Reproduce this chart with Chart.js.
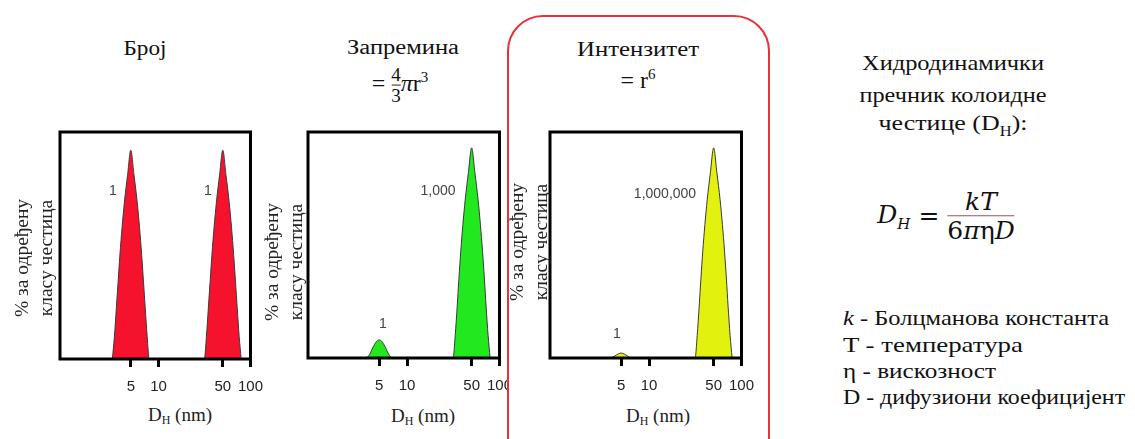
<!DOCTYPE html>
<html>
<head>
<meta charset="utf-8">
<script src="https://cdn.jsdelivr.net/npm/chart.js@4/dist/chart.umd.min.js"></script>
<style>
  html,body{margin:0;padding:0;background:#fff;}
  body{width:1135px;height:439px;position:relative;overflow:hidden;color:#111;}
  .c{position:absolute;transform:translate(-50%,-50%);white-space:nowrap;z-index:3;}
  .ytitle{position:absolute;transform:translate(-50%,-50%) rotate(-90deg);white-space:nowrap;text-align:center;font-size:19.5px;line-height:24px;color:#222;z-index:3;}
  .xt{font-size:19px;color:#222;}
  .xt sub{font-size:12px;vertical-align:-3px;}
  .pk{position:absolute;transform:translate(-50%,-50%);font-size:14px;color:#444;white-space:nowrap;z-index:3;}
  .box{position:absolute;left:507px;top:15px;width:263px;height:460px;border:2px solid #e8323a;border-radius:36px;box-sizing:border-box;background:#fff;z-index:1;}
  .cv{position:absolute;}
  .frac{display:inline-flex;flex-direction:column;align-items:center;vertical-align:middle;}
  .frac span{display:block;line-height:1.05;}
  .li{position:absolute;left:843px;white-space:nowrap;font-size:21px;transform-origin:left center;transform:translateY(-50%);}
</style>
</head>
<body>
<div class="box"></div>

<div class="c fit" data-w="43" style="left:145px;top:48px;font-size:20px;font-family:'Liberation Serif',serif;">Број</div>
<div class="c fit" data-w="112" style="left:403px;top:47px;font-size:20px;font-family:'Liberation Serif',serif;">Запремина</div>
<div class="c" style="left:400px;top:85px;font-size:24px;font-family:'Liberation Serif',serif;">= <span class="frac" style="font-size:19px;"><span>4</span><span style="border-top:1px solid #222;">3</span></span><i>π</i>r<sup style="font-size:15px;">3</sup></div>
<div class="c fit" data-w="122" style="left:638px;top:49px;font-size:20px;font-family:'Liberation Serif',serif;">Интензитет</div>
<div class="c" style="left:638px;top:80px;font-size:24px;font-family:'Liberation Serif',serif;">= r<sup style="font-size:15px;">6</sup></div>

<div class="ytitle" style="left:34px;top:258px;font-family:'Liberation Serif',serif;">% за одређену<br>класу честица</div>
<div class="ytitle" style="left:284px;top:262px;font-family:'Liberation Serif',serif;">% за одређену<br>класу честица</div>
<div class="ytitle" style="left:529px;top:242px;font-family:'Liberation Serif',serif;">% за одређену<br>класу честица</div>

<div class="c xt" style="left:180px;top:416px;font-family:'Liberation Serif',serif;">D<sub>H</sub> (nm)</div>
<div class="c xt" style="left:423px;top:417px;font-family:'Liberation Serif',serif;">D<sub>H</sub> (nm)</div>
<div class="c xt" style="left:658px;top:417px;font-family:'Liberation Serif',serif;">D<sub>H</sub> (nm)</div>

<div class="pk" style="left:113px;top:190px;font-family:'Liberation Sans',sans-serif;">1</div>
<div class="pk" style="left:208px;top:190px;font-family:'Liberation Sans',sans-serif;">1</div>
<div class="pk" style="left:383px;top:323px;font-family:'Liberation Sans',sans-serif;">1</div>
<div class="pk" style="left:438px;top:190px;font-family:'Liberation Sans',sans-serif;">1,000</div>
<div class="pk" style="left:617px;top:333px;font-family:'Liberation Sans',sans-serif;">1</div>
<div class="pk" style="left:665px;top:193px;font-family:'Liberation Sans',sans-serif;">1,000,000</div>

<div class="c fit" data-w="182" style="left:953px;top:63px;font-size:22px;font-family:'Liberation Serif',serif;">Хидродинамички</div>
<div class="c fit" data-w="187" style="left:953px;top:95px;font-size:22px;font-family:'Liberation Serif',serif;">пречник колоидне</div>
<div class="c fit" data-w="149" style="left:953px;top:125px;font-size:22px;font-family:'Liberation Serif',serif;">честице (D<sub style="font-size:14px;">H</sub>):</div>

<div class="c" style="left:946px;top:217px;font-family:'DejaVu Serif','Liberation Serif',serif;font-size:25px;">
  <i>D<sub style="font-size:15px;">H</sub></i> = <span class="frac"><span><i>kT</i></span><span style="border-top:1px solid #8a5a5a;padding-top:2px;">6<i>π</i>η<i>D</i></span></span>
</div>

<div class="li fitl" data-w="266" style="top:318px;font-family:'Liberation Serif',serif;"><i>k</i> - Болцманова константа</div>
<div class="li fitl" data-w="180" style="top:345px;font-family:'Liberation Serif',serif;">T - температура</div>
<div class="li fitl" data-w="153" style="top:371px;font-family:'Liberation Serif',serif;">η - вискозност</div>
<div class="li fitl" data-w="282" style="top:397px;font-family:'Liberation Serif',serif;">D - дифузиони коефицијент</div>

<canvas id="c1" class="cv" style="z-index:0;"></canvas>
<canvas id="c2" class="cv" style="z-index:0;"></canvas>
<canvas id="c3" class="cv" style="z-index:2;"></canvas>

<script>
// ---- data ----
const tickValues = [5, 10, 50, 100];

const numberSizes  = [3.15, 3.32, 3.49, 3.64, 3.81, 4.02, 4.26, 4.61, 5.0, 5.42, 5.87, 6.22, 6.56, 6.87, 7.16, 7.53, 7.92,
                      31.5, 33.2, 34.9, 36.4, 38.1, 40.2, 42.6, 46.1, 50, 54.2, 58.7, 62.2, 65.6, 68.7, 71.6, 75.3, 79.2];
const numberValues = [0, 10, 23, 34, 46, 58, 69, 81, 92, 81, 69, 58, 46, 34, 23, 10, 0,
                      0, 10, 23, 34, 46, 58, 69, 81, 92, 81, 69, 58, 46, 34, 23, 10, 0];

const volumeSizes  = [3.62, 3.93, 4.26, 4.61, 5.0, 5.42, 5.87, 6.37, 6.90,
                      31.5, 33.2, 34.9, 36.4, 38.1, 40.2, 42.6, 46.1, 50, 54.2, 58.7, 62.2, 65.6, 68.7, 71.6, 75.3, 79.2];
const volumeValues = [0, 1.5, 4.5, 7, 8, 7, 4.5, 1.5, 0,
                      0, 10, 23, 35, 47, 59, 70, 82, 93, 82, 70, 59, 47, 35, 23, 10, 0];

const intensitySizes  = [3.88, 4.3, 4.65, 5.0, 5.37, 5.8, 6.44,
                         31.5, 33.2, 34.9, 36.4, 38.1, 40.2, 42.6, 46.1, 50, 54.2, 58.7, 62.2, 65.6, 68.7, 71.6, 75.3, 79.2];
const intensityValues = [0, 1, 1.8, 2.2, 1.8, 1, 0,
                         0, 10, 23, 35, 47, 59, 70, 82, 93, 82, 70, 59, 47, 35, 23, 10, 0];

// ---- text width fitting (styling only) ----
function fitTexts() {
  document.querySelectorAll('.fit').forEach(el => {
    el.style.transform = 'translate(-50%,-50%)';
    const w = el.getBoundingClientRect().width;
    const k = (+el.dataset.w) / w;
    el.style.transform = 'translate(-50%,-50%) scaleX(' + k.toFixed(3) + ')';
  });
  document.querySelectorAll('.fitl').forEach(el => {
    el.style.transform = 'translateY(-50%)';
    const w = el.getBoundingClientRect().width;
    const k = (+el.dataset.w) / w;
    el.style.transform = 'translateY(-50%) scaleX(' + k.toFixed(3) + ')';
  });
}
fitTexts();
if (document.fonts && document.fonts.ready) document.fonts.ready.then(fitTexts);

// ---- drawing ----
const framePlugin = {
  id: 'frame',
  afterDraw(chart) {
    const {ctx, chartArea: a} = chart;
    ctx.save();
    ctx.strokeStyle = '#000';
    ctx.lineWidth = 3;
    ctx.strokeRect(a.left, a.top, a.right - a.left, a.bottom - a.top);
    ctx.restore();
  }
};

function makeChart(id, left, top, plotW, plotH, sizes, values, fillColor) {
  const padL = 10, padT = 10, padR = 22, axisH = 45;
  const cv = document.getElementById(id);
  const W = plotW + padL + padR, H = plotH + padT + axisH;
  cv.width = W; cv.height = H;
  cv.style.left = (left - padL) + 'px';
  cv.style.top = (top - padT) + 'px';
  cv.style.width = W + 'px'; cv.style.height = H + 'px';
  return new Chart(cv, {
    type: 'line',
    data: {
      datasets: [{
        data: sizes.map((s, i) => ({x: s, y: values[i]})),
        borderColor: '#3a3a3a',
        borderWidth: 1,
        backgroundColor: fillColor,
        fill: 'origin',
        pointRadius: 0,
        cubicInterpolationMode: 'monotone'
      }]
    },
    options: {
      responsive: false,
      animation: false,
      devicePixelRatio: 1,
      layout: {padding: {left: padL, top: padT, right: padR, bottom: 0}},
      plugins: {legend: {display: false}, tooltip: {enabled: false}},
      scales: {
        x: {
          type: 'logarithmic',
          min: 0.85, max: 100,
          afterBuildTicks: s => { s.ticks = tickValues.map(v => ({value: v})); },
          afterFit: s => { s.height = axisH; },
          border: {display: false},
          grid: {display: true, drawOnChartArea: false, drawTicks: true, tickLength: 8, lineWidth: 3, color: '#000'},
          ticks: {
            padding: 11,
            color: '#222',
            font: {family: "'Liberation Sans', Arial, sans-serif", size: 15},
            maxRotation: 0, autoSkip: false,
            callback: v => String(v)
          }
        },
        y: {min: 0, max: 100, display: false}
      }
    },
    plugins: [framePlugin]
  });
}

makeChart('c1', 60, 132, 192, 227, numberSizes, numberValues, '#f5122c');
makeChart('c2', 308, 132, 193, 226, volumeSizes, volumeValues, '#22e81e');
makeChart('c3', 550, 132, 193, 226, intensitySizes, intensityValues, '#e2f20e');
</script>
</body>
</html>
